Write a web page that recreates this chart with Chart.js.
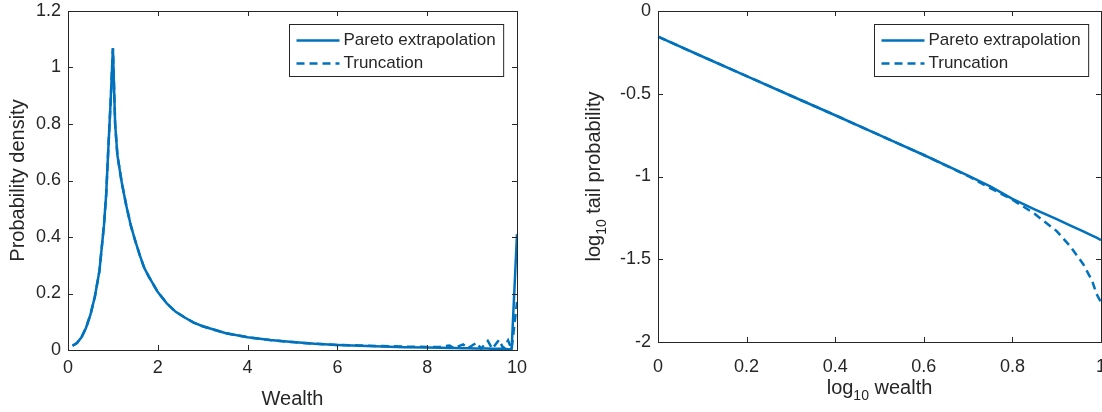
<!DOCTYPE html>
<html>
<head>
<meta charset="utf-8">
<script src="https://cdn.jsdelivr.net/npm/chart.js@4.4.1/dist/chart.umd.min.js"></script>
<style>
  body { margin: 0; background: #fff; }
  .panel { position: absolute; top: 0; width: 551px; height: 412px; }
</style>
</head>
<body>
<div class="panel" style="left:0"><canvas id="density"></canvas></div>
<div class="panel" style="left:551px"><canvas id="tail"></canvas></div>
<script>
// left panel: density of wealth
var wealth = [0.1, 0.2, 0.3, 0.4, 0.5, 0.6, 0.7, 0.8, 0.85, 0.9, 0.95, 1.0,
    1.05, 1.1, 1.2, 1.3, 1.4, 1.5, 1.6, 1.7, 1.8,
    2.0, 2.2, 2.4, 2.6, 2.8, 3.0,
    3.5, 4.0, 4.5, 5.0, 5.5, 6.0, 6.5, 7.0, 7.5, 8.0,
    8.3, 8.5, 8.6, 8.8, 8.9, 9.1, 9.2, 9.35, 9.45, 9.6, 9.7, 9.8, 9.88, 10];
var densityPareto = [0.015, 0.025, 0.045, 0.078, 0.125, 0.19, 0.28, 0.44, 0.55, 0.72, 0.88, 1.068,
    0.80, 0.69, 0.59, 0.51, 0.44, 0.385, 0.335, 0.29, 0.26,
    0.205, 0.165, 0.135, 0.115, 0.097, 0.084,
    0.06, 0.045, 0.035, 0.028, 0.022, 0.018, 0.015, 0.012, 0.010, 0.009,
    0.008, 0.007, 0.007, 0.006, 0.006, 0.005, 0.005, 0.005, 0.004, 0.004, 0.004, 0.003, 0.002, 0.41];
var densityTrunc = [0.015, 0.025, 0.045, 0.078, 0.125, 0.19, 0.28, 0.44, 0.55, 0.72, 0.88, 1.068,
    0.80, 0.69, 0.59, 0.51, 0.44, 0.385, 0.335, 0.29, 0.26,
    0.205, 0.165, 0.135, 0.115, 0.097, 0.084,
    0.06, 0.045, 0.035, 0.028, 0.022, 0.018, 0.016, 0.014, 0.012, 0.011,
    0.011, 0.016, 0.006, 0.02, 0.006, 0.026, 0.005, 0.032, 0.004, 0.036, 0.004, 0.034, 0.003, 0.17];
var densityXTicks = [0, 2, 4, 6, 8, 10];
var densityYTicks = [0, 0.2, 0.4, 0.6, 0.8, 1, 1.2];

// right panel: log tail probability
var logWealth = [0, 0.1, 0.2, 0.3, 0.4, 0.5, 0.6, 0.7, 0.75, 0.8, 0.85, 0.9, 0.93, 0.96, 0.98, 0.99, 1.0];
var tailPareto = [-0.155, -0.275, -0.393, -0.512, -0.63, -0.75, -0.87, -0.995, -1.06, -1.135, -1.198, -1.258, -1.295, -1.332, -1.357, -1.37, -1.384];
var tailTrunc = [-0.155, -0.275, -0.393, -0.512, -0.63, -0.75, -0.87, -0.997, -1.07, -1.14, -1.225, -1.33, -1.42, -1.53, -1.63, -1.71, -1.76];
var tailXTicks = [0, 0.2, 0.4, 0.6, 0.8, 1];
var tailYTicks = [0, -0.5, -1, -1.5, -2];

var seriesNames = ["Pareto extrapolation", "Truncation"];

var lineColor = "#0072bd";
var axisColor = "#262626";
var fontFamily = "'Liberation Sans', Arial, Helvetica, sans-serif";

function points(xs, ys) {
    return xs.map(function (x, i) { return {x: x, y: ys[i]}; });
}

// box with inward ticks on all four sides, like matlab
var boxPlugin = {
    id: "box",
    afterDatasetsDraw: function (chart) {
        var ctx = chart.ctx, a = chart.chartArea, sx = chart.scales.x, sy = chart.scales.y;
        var tl = 5;
        ctx.save();
        ctx.strokeStyle = axisColor;
        ctx.lineWidth = 1;
        ctx.strokeRect(Math.round(a.left) + 0.5, Math.round(a.top) + 0.5, Math.round(a.right - a.left), Math.round(a.bottom - a.top));
        ctx.beginPath();
        sx.ticks.forEach(function (t) {
            var px = Math.round(sx.getPixelForValue(t.value)) + 0.5;
            ctx.moveTo(px, a.bottom); ctx.lineTo(px, a.bottom - tl);
            ctx.moveTo(px, a.top); ctx.lineTo(px, a.top + tl);
        });
        sy.ticks.forEach(function (t) {
            var py = Math.round(sy.getPixelForValue(t.value)) + 0.5;
            ctx.moveTo(a.left, py); ctx.lineTo(a.left + tl, py);
            ctx.moveTo(a.right, py); ctx.lineTo(a.right - tl, py);
        });
        ctx.stroke();

        // legend in the top right corner
        var lg = chart.options.plugins.box;
        ctx.font = "17px " + fontFamily;
        var w = 0;
        chart.data.datasets.forEach(function (d) { w = Math.max(w, ctx.measureText(d.label).width); });
        var bw = 54 + w + 8, bh = 52;
        var bx = Math.round(a.right - lg.right - bw) + 0.5, by = Math.round(a.top + lg.top) + 0.5;
        ctx.fillStyle = "#fff";
        ctx.fillRect(bx, by, bw, bh);
        ctx.strokeStyle = axisColor;
        ctx.strokeRect(bx, by, bw, bh);
        chart.data.datasets.forEach(function (d, i) {
            var y = by + 16 + i * 23;
            ctx.beginPath();
            ctx.strokeStyle = d.borderColor;
            ctx.lineWidth = d.borderWidth;
            ctx.setLineDash(d.borderDash || []);
            ctx.moveTo(bx + 7, y); ctx.lineTo(bx + 50, y);
            ctx.stroke();
            ctx.setLineDash([]);
            ctx.fillStyle = axisColor;
            ctx.textBaseline = "middle";
            ctx.textAlign = "left";
            ctx.fillText(d.label, bx + 54, y);
        });
        ctx.restore();
    },
    afterDraw: function (chart) {
        var ctx = chart.ctx, a = chart.chartArea, lg = chart.options.plugins.box;
        ctx.save();
        ctx.fillStyle = axisColor;
        drawRich(ctx, lg.xTitle, (a.left + a.right) / 2, a.bottom + lg.xTitleOffset, false);
        drawRich(ctx, lg.yTitle, a.left - lg.yTitleOffset, (a.top + a.bottom) / 2, true);
        ctx.restore();
    }
};

// text made of pieces, some of them subscript
function drawRich(ctx, segs, cx, cy, rotate) {
    var total = 0;
    segs.forEach(function (s) {
        ctx.font = (s[1] ? "14px " : "20px ") + fontFamily;
        total += ctx.measureText(s[0]).width;
    });
    ctx.save();
    ctx.translate(cx, cy);
    if (rotate) ctx.rotate(-Math.PI / 2);
    ctx.textBaseline = "middle";
    ctx.textAlign = "left";
    var x = -total / 2;
    segs.forEach(function (s) {
        ctx.font = (s[1] ? "14px " : "20px ") + fontFamily;
        ctx.fillText(s[0], x, s[1] ? 8 : 0);
        x += ctx.measureText(s[0]).width;
    });
    ctx.restore();
}

function makeScale(min, max, tickValues, pad, size, horizontal) {
    return {
        type: "linear",
        min: min,
        max: max,
        afterBuildTicks: function (s) {
            s.ticks = tickValues.map(function (v) { return {value: v}; });
        },
        ticks: {
            padding: pad,
            maxRotation: 0,
            autoSkip: false,
            color: axisColor,
            font: {family: fontFamily, size: 18},
            callback: function (v) { return String(v); }
        },
        grid: {display: false, drawTicks: false},
        border: {display: false},
        afterFit: function (s) {
            if (horizontal) s.height = size; else s.width = size;
            s.paddingLeft = 0; s.paddingRight = 0; s.paddingTop = 0; s.paddingBottom = 0;
        }
    };
}

function makeChart(id, xs, ys1, ys2, xScale, yScale, padding, box) {
    return new Chart(id, {
        type: "line",
        data: {
            datasets: [{
                label: seriesNames[0],
                data: points(xs, ys1),
                borderColor: lineColor,
                borderWidth: 2.5,
                pointRadius: 0,
                fill: false,
                order: 1
            }, {
                label: seriesNames[1],
                data: points(xs, ys2),
                borderColor: lineColor,
                borderWidth: 2.5,
                borderDash: [8, 5],
                pointRadius: 0,
                fill: false,
                order: 0
            }]
        },
        options: {
            responsive: true,
            maintainAspectRatio: false,
            animation: false,
            layout: {padding: padding},
            scales: {x: xScale, y: yScale},
            plugins: {
                legend: {display: false},
                tooltip: {enabled: false},
                box: box
            }
        },
        plugins: [boxPlugin]
    });
}

makeChart("density", wealth, densityPareto, densityTrunc,
    makeScale(0, 10, densityXTicks, 7, 62, true),
    makeScale(0, 1.2, densityYTicks, 7, 68, false),
    {left: 0, top: 11, right: 34, bottom: 0},
    {right: 14, top: 13, xTitle: [["Wealth", false]], xTitleOffset: 49,
     yTitle: [["Probability density", false]], yTitleOffset: 50});

makeChart("tail", logWealth, tailPareto, tailTrunc,
    makeScale(0, 1, tailXTicks, 14, 70, true),
    makeScale(-2, 0, tailYTicks, 7, 107, false),
    {left: 0, top: 11, right: 1, bottom: 0},
    {right: 13, top: 13, xTitle: [["log", false], ["10", true], [" wealth", false]], xTitleOffset: 46,
     yTitle: [["log", false], ["10", true], [" tail probability", false]], yTitleOffset: 64});
</script>
</body>
</html>
